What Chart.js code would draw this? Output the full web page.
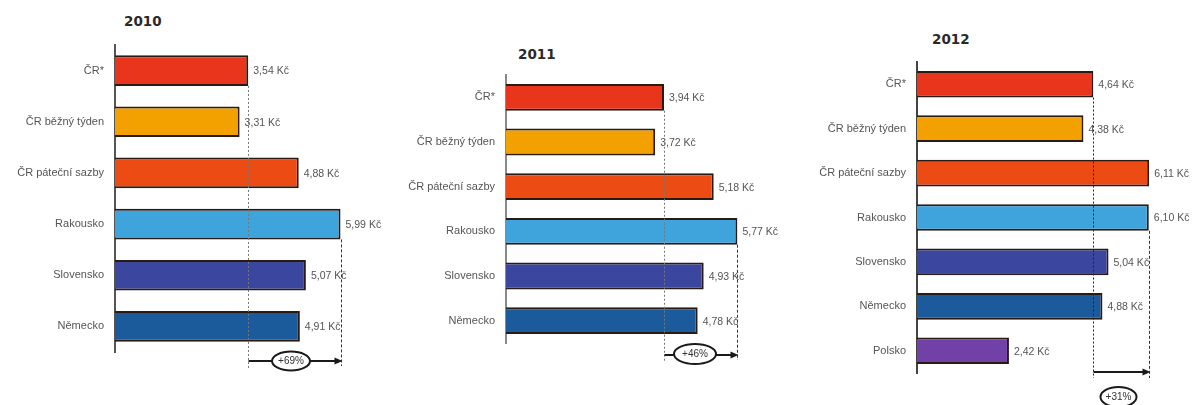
<!DOCTYPE html>
<html>
<head>
<meta charset="utf-8">
<script src="https://cdn.jsdelivr.net/npm/chart.js@4.4.1/dist/chart.umd.min.js"></script>
<style>
  html,body{margin:0;padding:0;background:#fff;}
  #wrap{position:relative;width:1197px;height:405px;overflow:hidden;background:#fff;}
  .panel{position:absolute;top:0;}
  .title{position:absolute;font-family:"DejaVu Sans",sans-serif;font-weight:bold;font-size:13.5px;line-height:1;color:#2a2a2a;}
</style>
</head>
<body>
<div id="wrap">
  <div class="title" id="t0" style="left:124px;top:15px;"></div>
  <div class="title" id="t1" style="left:518px;top:48px;"></div>
  <div class="title" id="t2" style="left:932px;top:33px;"></div>
  <div class="panel" style="left:0px;"><canvas id="c0" width="430" height="405"></canvas></div>
  <div class="panel" style="left:390px;"><canvas id="c1" width="400" height="405"></canvas></div>
  <div class="panel" style="left:795px;"><canvas id="c2" width="402" height="405"></canvas></div>
</div>
<script>
// ---- data ----
const years = ["2010", "2011", "2012"];
const categories2010 = ["ČR*", "ČR běžný týden", "ČR páteční sazby", "Rakousko", "Slovensko", "Německo"];
const values2010 = [3.54, 3.31, 4.88, 5.99, 5.07, 4.91];
const categories2011 = ["ČR*", "ČR běžný týden", "ČR páteční sazby", "Rakousko", "Slovensko", "Německo"];
const values2011 = [3.94, 3.72, 5.18, 5.77, 4.93, 4.78];
const categories2012 = ["ČR*", "ČR běžný týden", "ČR páteční sazby", "Rakousko", "Slovensko", "Německo", "Polsko"];
const values2012 = [4.64, 4.38, 6.11, 6.10, 5.04, 4.88, 2.42];
const currency = "Kč";

// ---- styles ----
const barColors = {
  "ČR*": "#E8351C",
  "ČR běžný týden": "#F2A100",
  "ČR páteční sazby": "#EC4B14",
  "Rakousko": "#3FA4DB",
  "Slovensko": "#3B469F",
  "Německo": "#1B5B9B",
  "Polsko": "#7141A8"
};

const layouts = [
  {yW:115, top:45, bottom:53, right:14, ppu:37.65, axisColor:"#555", ref:0, target:3,
   arrowY:361, ellDx:-4, ellY:361, rx:19, ry:9.5, dashEndL:368, dashEndR:366, dashL:"#777"},
  {yW:116, top:75, bottom:62, right:12, ppu:40.1, axisColor:"#8a8a8a", ref:0, target:3,
   arrowY:355, ellDx:-6, ellY:354, rx:21, ry:10, dashEndL:362, dashEndR:360, dashL:"#777"},
  {yW:122, top:62, bottom:32, right:8, ppu:38.0, axisColor:"#444", ref:0, target:3,
   arrowY:372, ellDx:-3, ellY:397, rx:18, ry:10, dashEndL:378, dashEndR:378, dashL:"#222"}
];

function fmt(v){ return v.toFixed(2).replace(".", ",") + " " + currency; }

const annotPlugin = {
  id: "annot",
  afterDatasetsDraw(chart, args, o) {
    const ctx = chart.ctx;
    const meta = chart.getDatasetMeta(0);
    const vals = chart.data.datasets[0].data;
    const xs = chart.scales.x;
    ctx.save();
    // value labels
    ctx.font = '10.5px "Liberation Sans", sans-serif';
    ctx.fillStyle = "#555";
    ctx.textBaseline = "middle";
    ctx.textAlign = "left";
    meta.data.forEach((b, i) => { ctx.fillText(fmt(vals[i]), b.x + 5, b.y + 1); });

    const x1 = Math.round(xs.getPixelForValue(vals[o.ref])) + 0.5;
    const x2 = Math.round(xs.getPixelForValue(vals[o.target])) + 0.5;
    const b1 = meta.data[o.ref], b2 = meta.data[o.target];
    // dashed verticals
    ctx.lineWidth = 1;
    ctx.setLineDash([2, 2]);
    ctx.strokeStyle = o.dashL;
    ctx.beginPath();
    ctx.moveTo(x1, b1.y + b1.height / 2);
    ctx.lineTo(x1, o.dashEndL);
    ctx.stroke();
    ctx.strokeStyle = "#333";
    ctx.setLineDash([3, 2]);
    ctx.beginPath();
    ctx.moveTo(x2, b2.y + b2.height / 2);
    ctx.lineTo(x2, o.dashEndR);
    ctx.stroke();
    ctx.setLineDash([]);
    // arrow
    ctx.strokeStyle = "#1a1a1a";
    ctx.lineWidth = 2;
    ctx.beginPath();
    ctx.moveTo(x1, o.arrowY);
    ctx.lineTo(x2 - 5, o.arrowY);
    ctx.stroke();
    ctx.fillStyle = "#1a1a1a";
    ctx.beginPath();
    ctx.moveTo(x2 + 1, o.arrowY);
    ctx.lineTo(x2 - 7, o.arrowY - 3.5);
    ctx.lineTo(x2 - 7, o.arrowY + 3.5);
    ctx.closePath();
    ctx.fill();
    // ellipse with percentage
    const pct = Math.round((vals[o.target] / vals[o.ref] - 1) * 100);
    const cx = (x1 + x2) / 2 + o.ellDx;
    ctx.beginPath();
    ctx.ellipse(cx, o.ellY, o.rx, o.ry, 0, 0, Math.PI * 2);
    ctx.fillStyle = "#fff";
    ctx.fill();
    ctx.lineWidth = 2;
    ctx.strokeStyle = "#1a1a1a";
    ctx.stroke();
    ctx.fillStyle = "#333";
    ctx.font = '10px "Liberation Sans", sans-serif';
    ctx.textAlign = "center";
    ctx.fillText("+" + pct + "%", cx, o.ellY + 0.5);
    ctx.restore();
  }
};

function makeChart(id, cats, vals, L) {
  const canvas = document.getElementById(id);
  const W = canvas.width - L.yW - L.right;
  const max = W / L.ppu;
  return new Chart(canvas, {
    type: "bar",
    data: {
      labels: cats,
      datasets: [{
        data: vals,
        backgroundColor: cats.map(c => barColors[c]),
        borderColor: "#2a1a14",
        borderWidth: {top: 2, right: 2, bottom: 2, left: 0},
        borderSkipped: false,
        categoryPercentage: 1,
        barPercentage: 0.6
      }]
    },
    options: {
      indexAxis: "y",
      responsive: false,
      animation: false,
      devicePixelRatio: 1,
      layout: {padding: {top: L.top, bottom: L.bottom, right: L.right, left: 0}},
      plugins: {
        legend: {display: false},
        tooltip: {enabled: false},
        title: {display: false},
        annot: L
      },
      scales: {
        x: {display: false, min: 0, max: max},
        y: {
          grid: {display: false, drawTicks: false},
          border: {display: true, color: L.axisColor, width: 2},
          ticks: {color: "#555", font: {size: 11, family: '"Liberation Sans", sans-serif'}, padding: 11},
          afterFit(s) { s.width = L.yW; }
        }
      }
    },
    plugins: [annotPlugin]
  });
}

document.getElementById("t0").textContent = years[0];
document.getElementById("t1").textContent = years[1];
document.getElementById("t2").textContent = years[2];
makeChart("c0", categories2010, values2010, layouts[0]);
makeChart("c1", categories2011, values2011, layouts[1]);
makeChart("c2", categories2012, values2012, layouts[2]);
</script>
</body>
</html>
